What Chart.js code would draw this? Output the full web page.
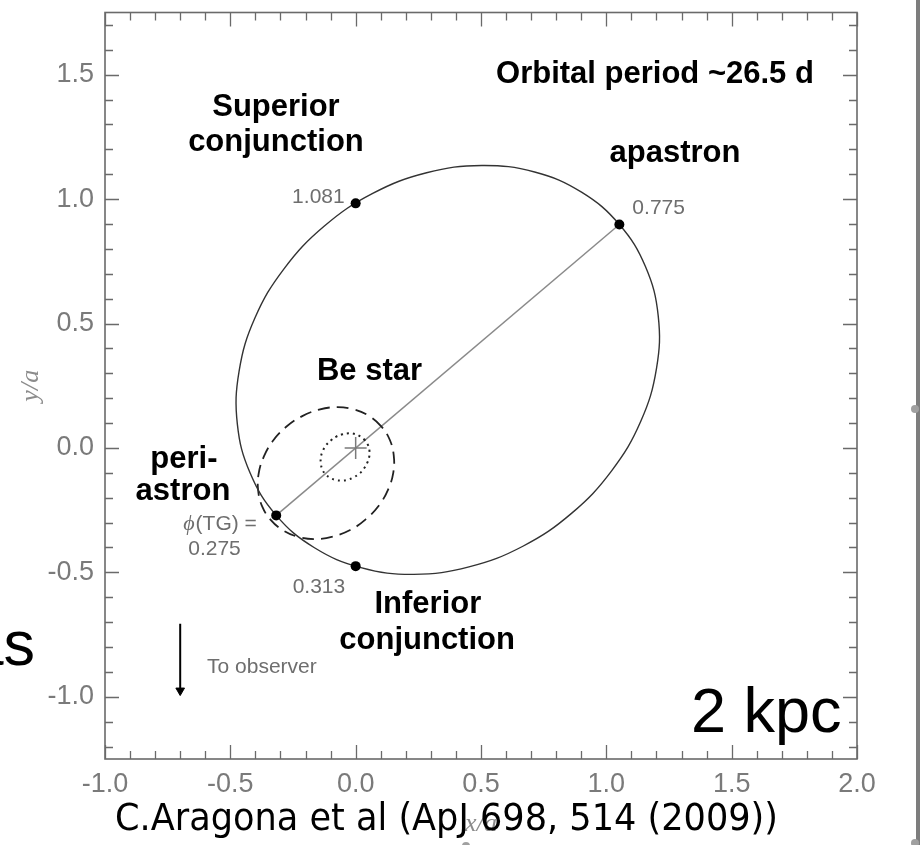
<!DOCTYPE html>
<html>
<head>
<meta charset="utf-8">
<script src="https://cdn.jsdelivr.net/npm/chart.js@4.4.1/dist/chart.umd.min.js"></script>
<style>
  html, body { margin: 0; padding: 0; background: #fff; }
  canvas { display: block; }
</style>
</head>
<body>
<canvas id="orbit" width="920" height="845"></canvas>
<script>
// Orbit of the compact object around the system's centre of mass (x/a, y/a),
// sampled every 15 degrees of eccentric anomaly starting at periastron.
const compactOrbitX = [-0.317, -0.166, 0.021, 0.232, 0.452, 0.667, 0.861, 1.021, 1.137, 1.200, 1.207, 1.156,
                        1.052, 0.901, 0.714, 0.503, 0.283, 0.068, -0.126, -0.286, -0.402, -0.465, -0.472, -0.421];
const compactOrbitY = [-0.271, -0.400, -0.481, -0.508, -0.478, -0.395, -0.263, -0.092, 0.106, 0.319, 0.531, 0.729,
                        0.898, 1.028, 1.109, 1.135, 1.106, 1.023, 0.891, 0.720, 0.522, 0.309, 0.096, -0.101];

// Be star orbit, larger mass ratio (dashed)
const beOrbitWideX = [0.102, 0.053, -0.007, -0.075, -0.146, -0.215, -0.277, -0.329, -0.366, -0.387, -0.389, -0.373,
                      -0.339, -0.290, -0.230, -0.162, -0.091, -0.022, 0.040, 0.092, 0.129, 0.150, 0.152, 0.136];
const beOrbitWideY = [0.087, 0.129, 0.155, 0.164, 0.154, 0.127, 0.085, 0.030, -0.034, -0.103, -0.171, -0.235,
                      -0.289, -0.331, -0.357, -0.366, -0.356, -0.330, -0.287, -0.232, -0.168, -0.100, -0.031, 0.033];

// Be star orbit, smaller mass ratio (dotted)
const beOrbitNarrowX = [0.037, 0.019, -0.002, -0.027, -0.052, -0.077, -0.099, -0.118, -0.131, -0.139, -0.139, -0.134,
                        -0.122, -0.104, -0.082, -0.058, -0.033, -0.008, 0.015, 0.033, 0.046, 0.054, 0.055, 0.049];
const beOrbitNarrowY = [0.031, 0.046, 0.056, 0.059, 0.055, 0.046, 0.030, 0.011, -0.012, -0.037, -0.061, -0.084,
                        -0.104, -0.119, -0.128, -0.131, -0.128, -0.118, -0.103, -0.083, -0.060, -0.036, -0.011, 0.012];

// Marked orbital phases: periastron, inferior conjunction, superior conjunction, apastron
const phaseX = [-0.317, 0.0, 0.0, 1.052];
const phaseY = [-0.271, -0.475, 0.983, 0.898];
const phaseValues = ['0.275', '0.313', '1.081', '0.775'];

// Line of apsides (periastron to apastron) and the centre of mass
const apsidesX = [-0.317, 1.052];
const apsidesY = [-0.271, 0.898];
const centreX = [0.0];
const centreY = [0.0];

// Direction to the observer
const observerArrowX = [-0.7, -0.7];
const observerArrowY = [-0.706, -0.975];

// Axis tick labels
const xTickValues = [-1.0, -0.5, 0.0, 0.5, 1.0, 1.5, 2.0];
const yTickValues = [-1.0, -0.5, 0.0, 0.5, 1.0, 1.5];

const SANS = '"Liberation Sans", Arial, Helvetica, sans-serif';
const SERIF = '"Liberation Serif", "DejaVu Serif", "Times New Roman", serif';

const zip = (xs, ys) => xs.map((x, i) => ({ x, y: ys[i] }));

// Closed curve: wrap one sample on each end so the spline tangents match at the seam,
// then hide the two wrap segments.
function closedLoop(xs, ys) {
  const n = xs.length;
  const order = [n - 1, ...xs.map((_, i) => i), 0, 1];
  return order.map(i => ({ x: xs[i], y: ys[i] }));
}
function hideWrap(len) {
  return {
    borderColor: c => (c.p0DataIndex === 0 || c.p1DataIndex === len - 1) ? 'rgba(0,0,0,0)' : undefined
  };
}

const compactData = closedLoop(compactOrbitX, compactOrbitY);
const wideData = closedLoop(beOrbitWideX, beOrbitWideY);
const narrowData = closedLoop(beOrbitNarrowX, beOrbitNarrowY);

const datasets = [
  {
    label: 'Phase markers', data: zip(phaseX, phaseY), showLine: false,
    pointRadius: 5, pointBackgroundColor: '#000', pointBorderColor: '#000', pointBorderWidth: 0
  },
  {
    label: 'Centre of mass', data: zip(centreX, centreY), showLine: false,
    pointStyle: 'cross', pointRadius: 11, pointBorderColor: '#7a7a7a', pointBorderWidth: 1.5
  },
  {
    label: 'Compact object', data: compactData, borderColor: '#333', borderWidth: 1.4,
    tension: 0.4, pointRadius: 0, fill: false, segment: hideWrap(compactData.length)
  },
  {
    label: 'Be star (dashed)', data: wideData, borderColor: '#222', borderWidth: 1.8,
    borderDash: [12, 7], tension: 0.4, pointRadius: 0, fill: false, segment: hideWrap(wideData.length)
  },
  {
    label: 'Be star (dotted)', data: narrowData, borderColor: '#222', borderWidth: 2,
    borderDash: [2, 4], tension: 0.4, pointRadius: 0, fill: false, segment: hideWrap(narrowData.length)
  },
  {
    label: 'Line of apsides', data: zip(apsidesX, apsidesY), borderColor: '#8a8a8a',
    borderWidth: 1.5, pointRadius: 0, fill: false
  },
  {
    label: 'To observer', data: zip(observerArrowX, observerArrowY), borderColor: '#000', borderWidth: 2,
    pointRadius: [0, 5], pointStyle: 'triangle', pointRotation: 180,
    pointBackgroundColor: '#000', pointBorderColor: '#000', pointBorderWidth: 1, fill: false
  }
];

// Boxed frame with inward major/minor ticks on all four sides
const frameTicks = {
  id: 'frameTicks',
  afterDatasetsDraw(chart) {
    const { ctx, chartArea: a, scales: { x, y } } = chart;
    ctx.save();
    ctx.strokeStyle = '#6a6a6a';
    ctx.lineWidth = 1.6;
    ctx.strokeRect(a.left, a.top, a.right - a.left, a.bottom - a.top);
    ctx.lineWidth = 1.3;
    ctx.beginPath();
    for (let k = Math.ceil(x.min * 10); k <= Math.floor(x.max * 10); k++) {
      const len = k % 5 === 0 ? 14 : 8;
      const px = Math.round(x.getPixelForValue(k / 10)) + 0.5;
      ctx.moveTo(px, a.bottom); ctx.lineTo(px, a.bottom - len);
      ctx.moveTo(px, a.top); ctx.lineTo(px, a.top + len);
    }
    for (let k = Math.ceil(y.min * 10); k <= Math.floor(y.max * 10); k++) {
      const len = k % 5 === 0 ? 14 : 8;
      const py = Math.round(y.getPixelForValue(k / 10)) + 0.5;
      ctx.moveTo(a.left, py); ctx.lineTo(a.left + len, py);
      ctx.moveTo(a.right, py); ctx.lineTo(a.right - len, py);
    }
    ctx.stroke();
    ctx.restore();
  }
};

// Text placed in data coordinates
const labelKinds = {
  bold: { font: 'bold 31px ' + SANS, color: '#000' },
  note: { font: '21px ' + SANS, color: '#6e6e6e' }
};
const plotNotes = [
  { text: 'Orbital period ~26.5 d', x: 1.828, y: 1.467, align: 'right', kind: 'bold' },
  { text: 'Superior', x: -0.318, y: 1.336, align: 'center', kind: 'bold' },
  { text: 'conjunction', x: -0.318, y: 1.192, align: 'center', kind: 'bold' },
  { text: 'apastron', x: 1.274, y: 1.148, align: 'center', kind: 'bold' },
  { text: 'Be star', x: 0.055, y: 0.272, align: 'center', kind: 'bold' },
  { text: 'peri-', x: -0.685, y: -0.079, align: 'center', kind: 'bold' },
  { text: 'astron', x: -0.689, y: -0.210, align: 'center', kind: 'bold' },
  { text: 'Inferior', x: 0.288, y: -0.664, align: 'center', kind: 'bold' },
  { text: 'conjunction', x: 0.285, y: -0.808, align: 'center', kind: 'bold' },
  { text: 'To observer', x: -0.593, y: -0.903, align: 'left', kind: 'note' }
];
// Pixel offsets of each phase label from its marker
const phaseLabelPlacement = [
  { dx: -88, dy: 40, align: 'left', prefix: { dx: -93, dy: 15 } },
  { dx: -63, dy: 27, align: 'left' },
  { dx: -11, dy: 0, align: 'right' },
  { dx: 13, dy: -11, align: 'left' }
];

const annotations = {
  id: 'annotations',
  afterDraw(chart) {
    const { ctx, scales: { x, y } } = chart;
    ctx.save();
    ctx.textBaseline = 'alphabetic';
    for (const n of plotNotes) {
      const k = labelKinds[n.kind];
      ctx.font = k.font; ctx.fillStyle = k.color; ctx.textAlign = n.align;
      ctx.fillText(n.text, x.getPixelForValue(n.x), y.getPixelForValue(n.y));
    }
    ctx.font = labelKinds.note.font; ctx.fillStyle = labelKinds.note.color;
    phaseValues.forEach((v, i) => {
      const p = phaseLabelPlacement[i];
      const mx = x.getPixelForValue(phaseX[i]);
      const my = y.getPixelForValue(phaseY[i]);
      ctx.textAlign = p.align;
      ctx.fillText(v, mx + p.dx, my + p.dy);
      if (p.prefix) {
        const px = mx + p.prefix.dx, py = my + p.prefix.dy;
        ctx.textAlign = 'left';
        ctx.font = 'italic 22px ' + SERIF;
        ctx.fillText('\u03D5', px, py);
        const w = ctx.measureText('\u03D5').width;
        ctx.font = labelKinds.note.font;
        ctx.fillText('(TG) =', px + w + 1, py);
      }
    });

    // Slide text around the figure
    ctx.fillStyle = '#000';
    ctx.font = '63px ' + SANS;
    ctx.textAlign = 'right';
    ctx.fillText('as', 35, 665);
    ctx.textAlign = 'left';
    ctx.fillText('2 kpc', 691, 732);

    const cite = 'C.Aragona et al (ApJ 698, 514 (2009))';
    ctx.font = '37px "Comic Sans MS", "DejaVu Sans", sans-serif';
    const cw = ctx.measureText(cite).width;
    ctx.save();
    ctx.translate(115, 830);
    ctx.scale(663 / cw, 1);
    ctx.fillText(cite, 0, 0);
    ctx.restore();

    // Slide scroll bar on the right edge
    ctx.fillStyle = '#7d7d7d';
    ctx.fillRect(916, 0, 4, 845);
    ctx.fillStyle = '#a0a0a0';
    ctx.beginPath(); ctx.arc(915, 409, 4, 0, Math.PI * 2); ctx.fill();
    ctx.beginPath(); ctx.arc(915, 843, 4, 0, Math.PI * 2); ctx.fill();
    ctx.beginPath(); ctx.arc(466, 846, 4, 0, Math.PI * 2); ctx.fill();
    ctx.restore();
  }
};

const tickFont = { family: SANS, size: 27 };
const titleFont = { family: SERIF, size: 26, style: 'italic' };

new Chart(document.getElementById('orbit'), {
  type: 'line',
  data: { datasets },
  options: {
    responsive: false,
    animation: false,
    devicePixelRatio: 1,
    layout: { padding: { left: 0, right: 63, top: 6, bottom: 0 } },
    plugins: { legend: { display: false }, tooltip: { enabled: false } },
    elements: { line: { capBezierPoints: false } },
    scales: {
      x: {
        type: 'linear', position: 'bottom', min: -1.0, max: 2.0,
        afterBuildTicks: s => { s.ticks = xTickValues.map(v => ({ value: v })); },
        ticks: { color: '#7a7a7a', font: tickFont, padding: 9, maxRotation: 0, autoSkip: false,
                 callback: v => Number(v).toFixed(1) },
        grid: { display: false, drawTicks: false },
        border: { display: false },
        title: { display: true, text: 'x/a', color: '#8c8c8c', font: titleFont, padding: { top: 0, bottom: 5 } },
        afterFit: s => { s.height = 86; s.paddingLeft = 0; s.paddingRight = 0; }
      },
      y: {
        type: 'linear', position: 'left', min: -1.25, max: 1.75,
        afterBuildTicks: s => { s.ticks = yTickValues.map(v => ({ value: v })); },
        ticks: { color: '#7a7a7a', font: tickFont, padding: 11, autoSkip: false,
                 callback: v => Number(v).toFixed(1) },
        grid: { display: false, drawTicks: false },
        border: { display: false },
        title: { display: true, text: 'y/a', color: '#8c8c8c', font: titleFont, padding: { top: 16, bottom: 0 } },
        afterFit: s => { s.width = 105; s.paddingTop = 0; s.paddingBottom = 0; }
      }
    }
  },
  plugins: [frameTicks, annotations]
});
</script>
</body>
</html>
